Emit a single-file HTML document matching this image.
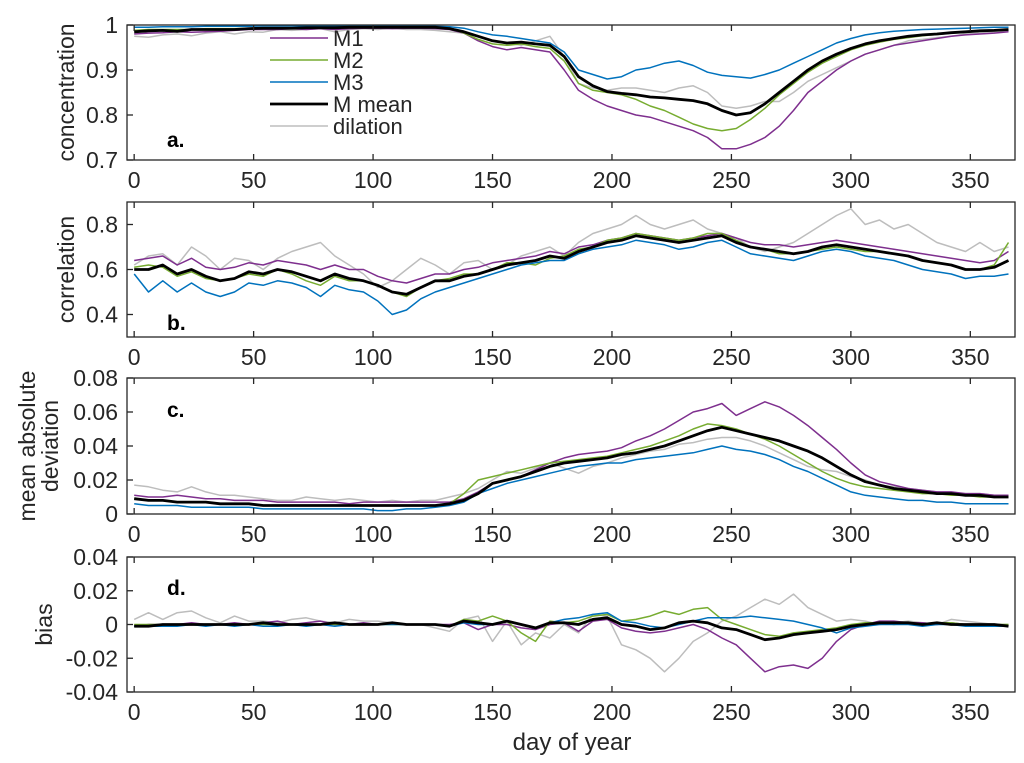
<!DOCTYPE html>
<html><head><meta charset="utf-8"><style>
body{margin:0;background:#fff}
svg{display:block;font-family:"Liberation Sans",Arial,sans-serif}
</style></head><body>
<svg id="fig" width="1024" height="763" viewBox="0 0 1024 763"></svg>
<script>
const days=[];for(let d=0;d<=366;d+=6)days.push(d);
const seriesNames=["M1","M2","M3","M mean","dilation"];
const aM1=[0.98,0.982,0.983,0.985,0.984,0.985,0.986,0.988,0.99,0.99,0.99,0.992,0.99,0.992,0.99,0.992,0.993,0.993,0.992,0.993,0.993,0.992,0.99,0.982,0.965,0.952,0.945,0.95,0.945,0.94,0.9,0.855,0.835,0.82,0.81,0.8,0.795,0.785,0.775,0.765,0.75,0.725,0.725,0.735,0.75,0.775,0.81,0.85,0.875,0.9,0.92,0.935,0.945,0.955,0.96,0.965,0.97,0.975,0.978,0.98,0.982,0.985];
const aM2=[0.988,0.99,0.99,0.99,0.99,0.992,0.992,0.992,0.993,0.993,0.994,0.994,0.994,0.995,0.995,0.995,0.995,0.995,0.996,0.996,0.996,0.996,0.993,0.982,0.968,0.958,0.955,0.958,0.952,0.948,0.92,0.87,0.855,0.85,0.845,0.835,0.82,0.81,0.795,0.78,0.77,0.765,0.77,0.79,0.815,0.845,0.87,0.895,0.915,0.93,0.945,0.955,0.962,0.968,0.972,0.976,0.979,0.982,0.984,0.986,0.987,0.989];
const aM3=[0.995,0.995,0.996,0.996,0.996,0.997,0.997,0.997,0.997,0.998,0.998,0.998,0.998,0.998,0.998,0.998,0.998,0.998,0.998,0.998,0.998,0.997,0.996,0.993,0.985,0.978,0.975,0.97,0.965,0.96,0.94,0.9,0.89,0.88,0.885,0.9,0.905,0.915,0.92,0.91,0.895,0.888,0.885,0.882,0.89,0.9,0.915,0.93,0.945,0.96,0.97,0.978,0.983,0.986,0.988,0.99,0.991,0.992,0.993,0.994,0.995,0.995];
const aMean=[0.985,0.987,0.988,0.986,0.99,0.99,0.99,0.99,0.992,0.993,0.993,0.993,0.994,0.994,0.994,0.995,0.995,0.995,0.995,0.995,0.995,0.995,0.992,0.985,0.975,0.965,0.96,0.962,0.958,0.955,0.93,0.885,0.865,0.852,0.848,0.845,0.84,0.838,0.835,0.832,0.825,0.81,0.8,0.805,0.825,0.85,0.875,0.9,0.92,0.935,0.948,0.958,0.965,0.97,0.975,0.978,0.98,0.983,0.985,0.987,0.988,0.99];
const aDil=[0.975,0.973,0.978,0.98,0.976,0.982,0.985,0.98,0.985,0.984,0.99,0.988,0.99,0.992,0.985,0.99,0.992,0.99,0.993,0.99,0.99,0.988,0.985,0.982,0.975,0.965,0.96,0.955,0.965,0.975,0.93,0.87,0.86,0.855,0.86,0.86,0.855,0.85,0.86,0.865,0.85,0.82,0.815,0.82,0.83,0.83,0.85,0.875,0.89,0.905,0.92,0.935,0.945,0.955,0.965,0.968,0.972,0.975,0.98,0.982,0.985,0.987];
const bM1=[0.64,0.65,0.66,0.62,0.65,0.61,0.6,0.61,0.63,0.62,0.64,0.63,0.62,0.6,0.62,0.6,0.6,0.57,0.55,0.54,0.56,0.58,0.58,0.6,0.61,0.63,0.64,0.65,0.66,0.68,0.67,0.7,0.71,0.73,0.74,0.76,0.75,0.74,0.73,0.74,0.75,0.76,0.74,0.72,0.71,0.71,0.7,0.71,0.72,0.73,0.72,0.71,0.7,0.69,0.68,0.67,0.66,0.65,0.64,0.63,0.64,0.68];
const bM2=[0.61,0.62,0.61,0.57,0.59,0.56,0.55,0.56,0.58,0.57,0.6,0.58,0.55,0.53,0.57,0.55,0.55,0.53,0.5,0.48,0.52,0.55,0.56,0.58,0.58,0.6,0.63,0.63,0.62,0.65,0.66,0.69,0.7,0.73,0.74,0.76,0.75,0.74,0.73,0.74,0.76,0.76,0.73,0.7,0.69,0.67,0.67,0.68,0.69,0.7,0.69,0.68,0.68,0.67,0.66,0.64,0.63,0.62,0.6,0.6,0.62,0.72];
const bM3=[0.58,0.5,0.55,0.5,0.54,0.5,0.48,0.5,0.54,0.53,0.55,0.54,0.52,0.48,0.53,0.51,0.5,0.46,0.4,0.42,0.47,0.5,0.52,0.54,0.56,0.58,0.6,0.62,0.63,0.64,0.64,0.67,0.69,0.7,0.71,0.73,0.72,0.71,0.69,0.7,0.72,0.73,0.7,0.67,0.66,0.65,0.64,0.66,0.68,0.69,0.68,0.66,0.65,0.64,0.62,0.6,0.59,0.58,0.56,0.57,0.57,0.58];
const bMean=[0.6,0.6,0.62,0.58,0.6,0.57,0.55,0.56,0.59,0.58,0.6,0.59,0.57,0.55,0.58,0.56,0.55,0.53,0.5,0.49,0.52,0.55,0.55,0.57,0.58,0.6,0.62,0.63,0.64,0.66,0.65,0.68,0.7,0.72,0.73,0.75,0.74,0.73,0.72,0.73,0.74,0.75,0.72,0.7,0.69,0.68,0.67,0.68,0.7,0.71,0.7,0.69,0.68,0.67,0.66,0.64,0.63,0.62,0.6,0.6,0.61,0.64];
const bDil=[0.62,0.66,0.67,0.62,0.7,0.66,0.6,0.65,0.64,0.6,0.65,0.68,0.7,0.72,0.66,0.62,0.58,0.52,0.55,0.6,0.65,0.62,0.58,0.63,0.64,0.6,0.62,0.66,0.68,0.7,0.66,0.72,0.76,0.78,0.8,0.84,0.8,0.78,0.8,0.82,0.78,0.76,0.74,0.7,0.68,0.7,0.72,0.76,0.8,0.84,0.87,0.8,0.82,0.78,0.8,0.76,0.72,0.7,0.68,0.72,0.68,0.7];
const cM1=[0.011,0.01,0.01,0.011,0.01,0.009,0.009,0.008,0.008,0.008,0.007,0.007,0.007,0.007,0.007,0.006,0.007,0.007,0.007,0.007,0.007,0.007,0.007,0.009,0.013,0.018,0.02,0.022,0.026,0.03,0.033,0.035,0.036,0.037,0.039,0.043,0.046,0.05,0.055,0.06,0.062,0.065,0.058,0.062,0.066,0.063,0.058,0.052,0.045,0.038,0.03,0.023,0.019,0.017,0.015,0.014,0.013,0.013,0.012,0.012,0.011,0.011];
const cM2=[0.009,0.008,0.008,0.007,0.007,0.007,0.006,0.006,0.006,0.005,0.005,0.005,0.005,0.005,0.005,0.005,0.005,0.005,0.005,0.005,0.005,0.005,0.006,0.012,0.02,0.022,0.024,0.026,0.028,0.03,0.031,0.032,0.033,0.034,0.036,0.038,0.04,0.043,0.046,0.05,0.053,0.052,0.05,0.047,0.044,0.04,0.035,0.03,0.025,0.021,0.018,0.016,0.015,0.014,0.013,0.012,0.012,0.011,0.011,0.01,0.01,0.01];
const cM3=[0.006,0.005,0.005,0.005,0.004,0.004,0.004,0.004,0.004,0.003,0.003,0.003,0.003,0.003,0.003,0.003,0.003,0.002,0.002,0.003,0.003,0.004,0.005,0.007,0.012,0.015,0.018,0.02,0.022,0.024,0.026,0.028,0.029,0.03,0.03,0.032,0.033,0.034,0.035,0.036,0.038,0.04,0.038,0.037,0.035,0.032,0.028,0.025,0.021,0.017,0.013,0.011,0.01,0.009,0.008,0.008,0.007,0.007,0.006,0.006,0.006,0.006];
const cMean=[0.009,0.008,0.008,0.007,0.007,0.007,0.006,0.006,0.006,0.005,0.005,0.005,0.005,0.005,0.005,0.005,0.005,0.005,0.005,0.005,0.005,0.005,0.006,0.008,0.012,0.018,0.02,0.022,0.025,0.028,0.03,0.031,0.032,0.033,0.035,0.036,0.038,0.04,0.043,0.046,0.049,0.051,0.049,0.047,0.045,0.043,0.04,0.037,0.033,0.028,0.023,0.019,0.017,0.015,0.014,0.013,0.012,0.012,0.011,0.011,0.01,0.01];
const cDil=[0.017,0.016,0.014,0.013,0.016,0.013,0.011,0.011,0.01,0.009,0.008,0.008,0.01,0.009,0.008,0.009,0.008,0.007,0.008,0.007,0.008,0.008,0.01,0.012,0.015,0.02,0.025,0.024,0.027,0.03,0.027,0.024,0.028,0.03,0.033,0.035,0.037,0.038,0.041,0.042,0.044,0.045,0.045,0.043,0.04,0.036,0.032,0.028,0.026,0.025,0.022,0.02,0.017,0.016,0.015,0.014,0.013,0.012,0.012,0.012,0.011,0.011];
const dM1=[-0.001,0,0,0,0.001,0,0,0.001,0,0.001,0.002,0,0.001,0.002,0,0,0.001,0,0.001,0,0,0,0,0.001,-0.003,0,0,-0.002,-0.003,0,0.001,-0.004,0.002,0.003,-0.002,-0.004,-0.005,-0.004,-0.002,0,-0.003,-0.008,-0.012,-0.02,-0.028,-0.025,-0.024,-0.026,-0.02,-0.01,-0.003,0,0.002,0.002,0.001,0.001,0,0.001,0,0,0,-0.001];
const dM2=[0,0,0,0,0,0,0,0,0,0,0,0,0,0,0,0,0,0,0,0,0,0,-0.001,0.003,0.002,0.005,0.002,-0.005,-0.01,0.002,0.001,0.002,0.005,0.006,0.002,0.003,0.005,0.008,0.006,0.009,0.01,0.003,0,-0.003,-0.006,-0.007,-0.005,-0.004,-0.003,-0.002,0,0.001,0.001,0,0.001,0,0.001,0.001,0,0,0,0];
const dM3=[-0.001,-0.001,-0.001,-0.001,0,-0.001,0,-0.001,0,-0.001,-0.001,0,-0.001,0,-0.001,0,0,0,0,0,0,0,-0.001,0.001,0,0,0.002,0,-0.002,0.001,0.003,0.004,0.006,0.007,0.002,0.001,-0.001,-0.002,0,0.002,0.004,0.004,0.004,0.005,0.004,0.003,0.002,0,-0.002,-0.005,-0.002,-0.001,0,0,0,-0.001,0,0,-0.001,-0.001,-0.001,-0.001];
const dMean=[-0.001,-0.001,0,0,0,0,0,0,0,0.001,0,0,0,0,0.001,0,0,0,0.001,0,0,0,-0.001,0.002,0.001,0,0.002,0,-0.002,0.001,0.001,0,0.003,0.004,0,-0.001,-0.003,-0.002,0.001,0.002,0.001,-0.002,-0.003,-0.006,-0.009,-0.008,-0.006,-0.005,-0.004,-0.003,-0.001,0,0.001,0.001,0.001,0,0.001,0,0,0,0,-0.001];
const dDil=[0.003,0.007,0.003,0.007,0.008,0.004,0.001,0.005,0.002,0.002,0.001,0.003,0.004,0.002,0.001,0.003,0.002,0.002,0.001,0,0,-0.002,-0.004,0.003,0.005,-0.01,0.002,-0.012,-0.005,-0.008,0,-0.005,0.006,0.005,-0.012,-0.015,-0.02,-0.028,-0.02,-0.01,-0.005,0.002,0.005,0.01,0.015,0.012,0.018,0.01,0.006,0.002,0.003,0.002,0,0.001,0.002,0.001,0,0.003,0.002,0.001,0,0];
const xTicks=[0,50,100,150,200,250,300,350];
const aTicks=["0.7","0.8","0.9","1"];
const bTicks=["0.4","0.6","0.8"];
const cTicks=["0","0.02","0.04","0.06","0.08"];
const dTicks=["-0.04","-0.02","0","0.02","0.04"];

const NS="http://www.w3.org/2000/svg";
const svg=document.getElementById('fig');
const colors=["#7E2F8E","#77AC30","#0072BD","#000000","#BDBDBD"];
const widths=[1.5,1.5,1.5,2.8,1.5];
const X0=127,X1=1015,XMIN=-3,XMAX=368.7;
const xs=d=>X0+(d-XMIN)/(XMAX-XMIN)*(X1-X0);
function mk(tag,attrs,parent){const e=document.createElementNS(NS,tag);for(const k in attrs)e.setAttribute(k,attrs[k]);(parent||svg).appendChild(e);return e;}
function panel(key,top,bot,ymin,ymax,ticks,series,label,labelY,ylab){
  const g=mk('g',{});
  
  
  const ys=v=>bot-(v-ymin)/(ymax-ymin)*(bot-top);
  const order=[4,0,1,2,3];
  order.forEach(si=>{
    const arr=series[si];
    const pts=arr.map((v,i)=>xs(days[i]).toFixed(1)+','+ys(v).toFixed(1)).join(' ');
    const p=mk('polyline',{points:pts,fill:'none',stroke:colors[si],'stroke-width':widths[si],'stroke-linejoin':'round'},g);
    
    
  });
  const box=mk('rect',{x:X0,y:top,width:X1-X0,height:bot-top,fill:'none',stroke:'#262626','stroke-width':1.3},g);
  
  
  xTicks.forEach(t=>{
    const x=xs(t);
    mk('line',{x1:x,x2:x,y1:bot,y2:bot-6,stroke:'#262626','stroke-width':1.3},g);
    mk('line',{x1:x,x2:x,y1:top,y2:top+6,stroke:'#262626','stroke-width':1.3},g);
    const tx=mk('text',{x:x,y:bot+28,'font-size':23,'text-anchor':'middle',fill:'#262626'},g);
    tx.textContent=t;
    
    
  });
  ticks.forEach(t=>{
    const y=ys(parseFloat(t));
    mk('line',{x1:X0,x2:X0+6,y1:y,y2:y,stroke:'#262626','stroke-width':1.3},g);
    const tx=mk('text',{x:X0-9,y:y+8,'font-size':23,'text-anchor':'end',fill:'#262626'},g);
    tx.textContent=t;
    
    
  });
  const pl=mk('text',{x:167,y:labelY,'font-size':21,'font-weight':'bold',fill:'#000'},g);
  pl.textContent=label;
  
  
  ylab.forEach(([txt,x])=>{
    const cy=(top+bot)/2;
    const t=mk('text',{x:x,y:cy,'font-size':23,'text-anchor':'middle',fill:'#262626',transform:'rotate(-90 '+x+' '+cy+')'},g);
    t.textContent=txt;
    
    
  });
}
panel('a',25,160,0.7,1.0,aTicks,[aM1,aM2,aM3,aMean,aDil],'a.',147,[['concentration',74]]);
panel('b',202,337,0.3,0.9,bTicks,[bM1,bM2,bM3,bMean,bDil],'b.',330,[['correlation',74]]);
panel('c',378,514,0,0.08,cTicks,[cM1,cM2,cM3,cMean,cDil],'c.',417,[['mean absolute',35],['deviation',58]]);
panel('d',557,692,-0.04,0.04,dTicks,[dM1,dM2,dM3,dMean,dDil],'d.',595,[['bias',52]]);
const xl=mk('text',{x:572,y:750,'font-size':24,'text-anchor':'middle',fill:'#262626'});
xl.textContent='day of year';


const lg=mk('g',{});


seriesNames.forEach((n,i)=>{
  const y=38+i*22;
  mk('line',{x1:270,x2:328,y1:y,y2:y,stroke:colors[i],'stroke-width':widths[i]},lg);
  const t=mk('text',{x:333,y:y+8,'font-size':22,fill:'#262626'},lg);
  t.textContent=n;
  
  
});
</script>
</body></html>
